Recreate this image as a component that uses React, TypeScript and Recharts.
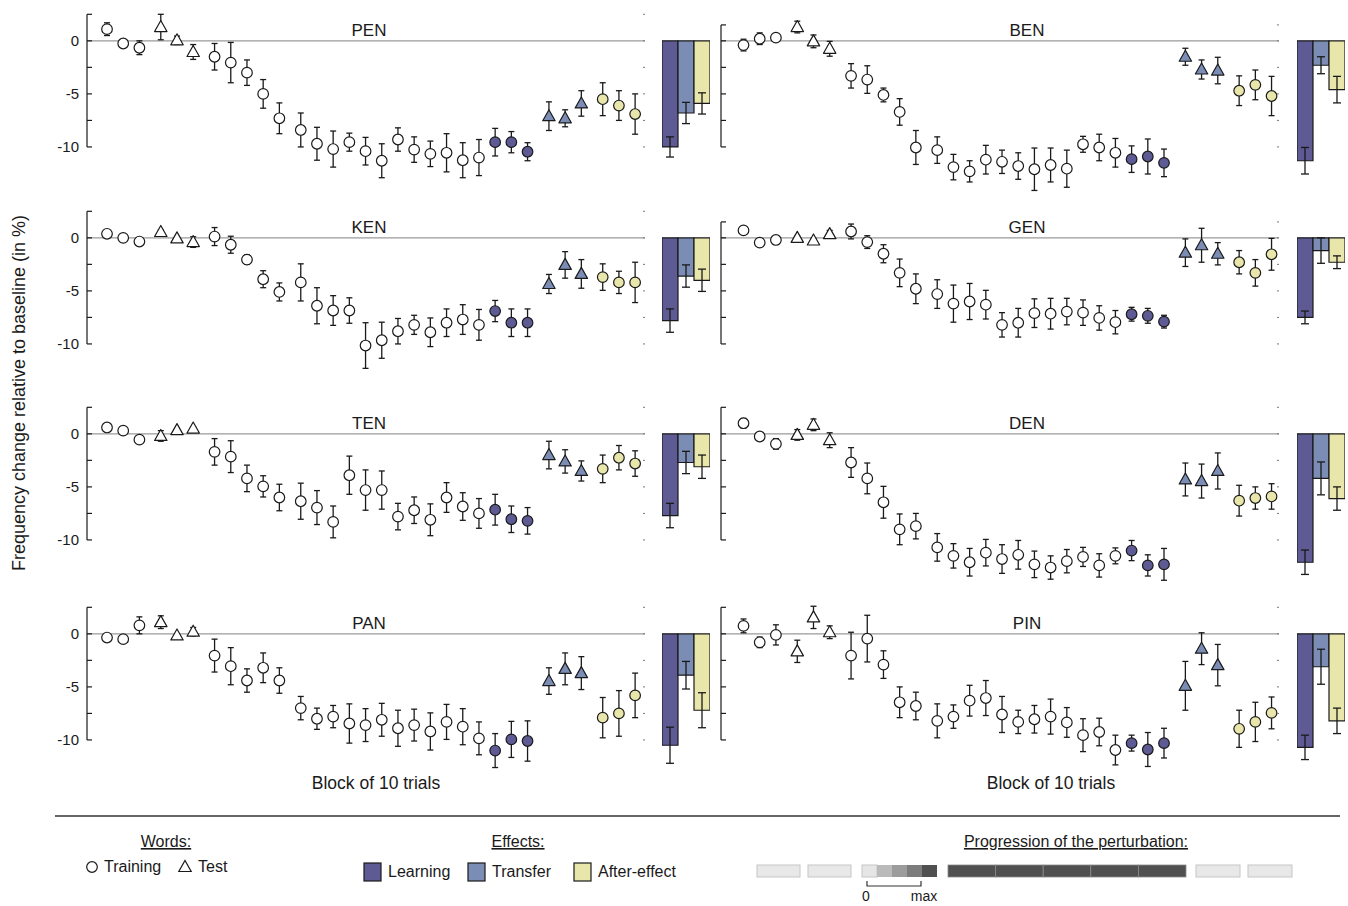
import React from "react";
import {
  ComposedChart,
  BarChart,
  Bar,
  Cell,
  Scatter,
  XAxis,
  YAxis,
  ErrorBar,
  ReferenceLine,
} from "recharts";

const FONT = '"Liberation Sans", Arial, sans-serif';
const INK = "#1a1a1a";
const LEARN = "#5d5a94";
const TRANSFER = "#7b8cb5";
const AFTER = "#e8e6aa";

// block layout: baseline training, baseline test, ramp, full perturbation, transfer test, after-effect
const GROUP_SIZES = [3, 3, 5, 15, 3, 3];
const GROUP_GAP = 0.32;
const rep = (k: string, n: number) => Array(n).fill(k);
const BLOCK_KIND = [
  ...rep("train", 3),
  ...rep("test", 3),
  ...rep("train", 5),
  ...rep("train", 12),
  ...rep("learn", 3),
  ...rep("transfer", 3),
  ...rep("after", 3),
];
const BLOCK_X = GROUP_SIZES.flatMap((n, g) => Array(n).fill(g)).map((g, i) => i + GROUP_GAP * g);

const EFFECTS = ["Learning", "Transfer", "After-effect"];
const EFFECT_COLORS = [LEARN, TRANSFER, AFTER];

// means and standard errors per block (in %)
const PEN_MEAN = [1.1, -0.25, -0.65, 1.3, 0.05, -1.05, -1.5, -2.05, -3.0, -5.0, -7.3, -8.4, -9.7, -10.2, -9.55, -10.4, -11.3, -9.3, -10.25, -10.65, -10.55, -11.25, -11.0, -9.55, -9.55, -10.45, -7.1, -7.3, -5.9, -5.5, -6.1, -6.9];
const PEN_ERR = [0.6, 0.15, 0.65, 1.2, 0.4, 0.7, 1.25, 1.9, 1.2, 1.35, 1.45, 1.6, 1.55, 1.7, 0.85, 1.3, 1.6, 1.1, 1.2, 1.2, 1.8, 1.65, 1.7, 1.3, 1.0, 0.85, 1.35, 0.8, 1.2, 1.55, 1.4, 1.9];
const KEN_MEAN = [0.38, 0, -0.35, 0.55, -0.05, -0.4, 0.12, -0.65, -2.05, -3.9, -5.1, -4.2, -6.4, -6.85, -6.85, -10.15, -9.65, -8.8, -8.2, -8.9, -8.0, -7.7, -8.2, -6.9, -8.0, -8.0, -4.35, -2.55, -3.4, -3.7, -4.2, -4.2];
const KEN_ERR = [0.15, 0.1, 0.15, 0.2, 0.1, 0.5, 0.85, 0.8, 0.45, 0.8, 0.85, 1.75, 1.7, 1.4, 1.2, 2.15, 1.7, 1.2, 0.9, 1.35, 1.3, 1.4, 1.45, 1.0, 1.3, 1.3, 0.9, 1.25, 1.35, 1.25, 1.05, 1.9];
const TEN_MEAN = [0.6, 0.3, -0.55, -0.2, 0.35, 0.5, -1.7, -2.15, -4.2, -4.95, -6.0, -6.35, -6.95, -8.3, -3.9, -5.3, -5.3, -7.8, -7.2, -8.1, -6.0, -6.85, -7.5, -7.15, -8.05, -8.2, -2.0, -2.6, -3.5, -3.3, -2.25, -2.8];
const TEN_ERR = [0.15, 0.15, 0.2, 0.5, 0.15, 0.15, 1.25, 1.5, 1.25, 1.0, 1.25, 1.7, 1.6, 1.5, 1.8, 1.9, 1.8, 1.25, 1.25, 1.5, 1.4, 1.3, 1.4, 1.45, 1.25, 1.25, 1.3, 1.1, 0.95, 1.3, 1.15, 1.2];
const PAN_MEAN = [-0.35, -0.5, 0.8, 1.1, -0.15, 0.2, -2.05, -3.05, -4.4, -3.2, -4.4, -7.0, -8.0, -7.8, -8.45, -8.6, -8.1, -8.9, -8.6, -9.2, -8.3, -8.75, -9.85, -11.0, -9.95, -10.1, -4.45, -3.3, -3.7, -7.9, -7.5, -5.8];
const PAN_ERR = [0.15, 0.3, 0.8, 0.6, 0.15, 0.4, 1.55, 1.75, 1.1, 1.4, 1.2, 1.1, 1.0, 1.05, 1.85, 1.55, 1.55, 1.7, 1.5, 1.75, 1.65, 1.7, 1.55, 1.6, 1.7, 1.9, 1.25, 1.5, 1.55, 1.9, 2.15, 2.1];
const BEN_MEAN = [-0.4, 0.2, 0.3, 1.3, -0.05, -0.75, -3.3, -3.65, -5.1, -6.7, -10.05, -10.3, -11.9, -12.3, -11.2, -11.4, -11.8, -12.1, -11.7, -12.05, -9.75, -10.05, -10.55, -11.15, -10.9, -11.5, -1.5, -2.7, -2.8, -4.7, -4.15, -5.2];
const BEN_ERR = [0.55, 0.55, 0.2, 0.55, 0.6, 0.7, 1.15, 1.3, 0.65, 1.25, 1.6, 1.25, 1.2, 1.0, 1.35, 1.1, 1.25, 2.0, 1.6, 1.75, 0.75, 1.25, 1.35, 1.25, 1.65, 1.3, 0.8, 0.9, 1.25, 1.4, 1.4, 1.85];
const GEN_MEAN = [0.7, -0.45, -0.2, 0.0, -0.25, 0.35, 0.6, -0.4, -1.5, -3.3, -4.8, -5.3, -6.2, -6.0, -6.3, -8.2, -8.0, -7.1, -7.15, -6.95, -7.05, -7.55, -7.95, -7.2, -7.35, -7.9, -1.4, -0.7, -1.5, -2.3, -3.3, -1.55];
const GEN_ERR = [0.15, 0.15, 0.15, 0.15, 0.2, 0.35, 0.7, 0.6, 0.85, 1.3, 1.4, 1.35, 1.75, 1.7, 1.35, 1.15, 1.35, 1.35, 1.45, 1.25, 1.2, 1.15, 1.1, 0.65, 0.7, 0.6, 1.3, 1.6, 1.05, 1.1, 1.25, 1.5];
const DEN_MEAN = [1.0, -0.25, -0.95, -0.1, 0.85, -0.6, -2.7, -4.2, -6.45, -9.0, -8.7, -10.7, -11.5, -12.1, -11.2, -11.8, -11.4, -12.3, -12.6, -12.0, -11.6, -12.4, -11.5, -11.0, -12.4, -12.3, -4.3, -4.45, -3.5, -6.3, -6.05, -5.9];
const DEN_ERR = [0.45, 0.15, 0.5, 0.5, 0.55, 0.7, 1.4, 1.45, 1.5, 1.45, 1.2, 1.3, 1.15, 1.3, 1.25, 1.35, 1.35, 1.25, 1.1, 1.1, 0.9, 1.1, 0.75, 0.95, 1.0, 1.5, 1.55, 1.6, 1.7, 1.45, 1.05, 1.2];
const PIN_MEAN = [0.75, -0.8, -0.1, -1.65, 1.55, 0.15, -2.05, -0.45, -2.9, -6.45, -6.8, -8.2, -7.8, -6.3, -6.05, -7.6, -8.3, -8.05, -7.8, -8.35, -9.55, -9.25, -10.95, -10.3, -10.9, -10.3, -4.9, -1.4, -2.95, -8.95, -8.3, -7.45];
const PIN_ERR = [0.65, 0.5, 0.95, 1.05, 1.05, 0.6, 2.2, 2.2, 1.3, 1.45, 1.3, 1.6, 1.1, 1.45, 1.65, 1.7, 1.1, 1.3, 1.65, 1.4, 1.55, 1.3, 1.4, 0.75, 1.6, 1.4, 2.3, 1.5, 1.95, 1.75, 1.85, 1.5];

// effect sizes: learning, transfer, after-effect
const PEN_BARS = [-10.0, -6.8, -5.9];
const PEN_BAR_ERR = [0.95, 1.0, 1.0];
const KEN_BARS = [-7.8, -3.6, -4.0];
const KEN_BAR_ERR = [1.1, 1.05, 1.05];
const TEN_BARS = [-7.7, -2.7, -3.1];
const TEN_BAR_ERR = [1.15, 1.05, 1.1];
const PAN_BARS = [-10.5, -3.9, -7.2];
const PAN_BAR_ERR = [1.7, 1.3, 1.65];
const BEN_BARS = [-11.3, -2.3, -4.6];
const BEN_BAR_ERR = [1.25, 0.8, 1.25];
const GEN_BARS = [-7.5, -1.2, -2.3];
const GEN_BAR_ERR = [0.6, 1.2, 0.6];
const DEN_BARS = [-12.1, -4.2, -6.1];
const DEN_BAR_ERR = [1.15, 1.55, 1.1];
const PIN_BARS = [-10.7, -3.1, -8.2];
const PIN_BAR_ERR = [1.15, 1.65, 1.2];

const PANELS = [
  { word: "PEN", mean: PEN_MEAN, err: PEN_ERR, bars: PEN_BARS, barErr: PEN_BAR_ERR, col: 0, row: 0 },
  { word: "KEN", mean: KEN_MEAN, err: KEN_ERR, bars: KEN_BARS, barErr: KEN_BAR_ERR, col: 0, row: 1 },
  { word: "TEN", mean: TEN_MEAN, err: TEN_ERR, bars: TEN_BARS, barErr: TEN_BAR_ERR, col: 0, row: 2 },
  { word: "PAN", mean: PAN_MEAN, err: PAN_ERR, bars: PAN_BARS, barErr: PAN_BAR_ERR, col: 0, row: 3 },
  { word: "BEN", mean: BEN_MEAN, err: BEN_ERR, bars: BEN_BARS, barErr: BEN_BAR_ERR, col: 1, row: 0 },
  { word: "GEN", mean: GEN_MEAN, err: GEN_ERR, bars: GEN_BARS, barErr: GEN_BAR_ERR, col: 1, row: 1 },
  { word: "DEN", mean: DEN_MEAN, err: DEN_ERR, bars: DEN_BARS, barErr: DEN_BAR_ERR, col: 1, row: 2 },
  { word: "PIN", mean: PIN_MEAN, err: PIN_ERR, bars: PIN_BARS, barErr: PIN_BAR_ERR, col: 1, row: 3 },
];

// layout
const ROW_ZERO = [41, 238, 434, 634];
const Y_DOMAIN: [number, number] = [-15, 3];
const CHART_H = 191;
const PX = CHART_H / (Y_DOMAIN[1] - Y_DOMAIN[0]);
const PLOT_W = 558;
const COLS = [
  { plotLeft: 87, axisW: 40, xDomain: [-1.235, 33.21], titleDx: 3, barLeft: 662, labels: true, axisTop: [2.5, 2.5, 2.5, 2.5] },
  { plotLeft: 721, axisW: 4, xDomain: [-1.39, 33.06], titleDx: 27, barLeft: 1297, labels: false, axisTop: [1.5, 1.5, 2.5, 2.5] },
];

const circleShape = (fill: string) => (p: any) => (
  <circle cx={p.cx} cy={p.cy} r={5.3} fill={fill} stroke={INK} strokeWidth={1.2} />
);
const triangleShape = (fill: string) => (p: any) => (
  <polygon
    points={`${p.cx},${p.cy - 6.5} ${p.cx + 6.2},${p.cy + 4.5} ${p.cx - 6.2},${p.cy + 4.5}`}
    fill={fill}
    stroke={INK}
    strokeWidth={1.2}
    strokeLinejoin="round"
  />
);

const SERIES = [
  { kind: "train", shape: circleShape("#fff") },
  { kind: "test", shape: triangleShape("#fff") },
  { kind: "learn", shape: circleShape(LEARN) },
  { kind: "transfer", shape: triangleShape(TRANSFER) },
  { kind: "after", shape: circleShape(AFTER) },
];

const leftTick = (labels: boolean) => (p: any) => (
  <g>
    <line x1={p.x} x2={p.x + 5} y1={p.y} y2={p.y} stroke={INK} strokeWidth={1.2} />
    {labels && p.payload.value % 5 === 0 && (
      <text x={p.x - 8} y={p.y} dy="0.36em" textAnchor="end" fontSize={15} fill={INK} fontFamily={FONT}>
        {p.payload.value}
      </text>
    )}
  </g>
);
const rightTick = (p: any) => (
  <line x1={p.x - 2} x2={p.x} y1={p.y} y2={p.y} stroke="#777" strokeWidth={1} />
);

function Panel({ panel }: { panel: (typeof PANELS)[number] }) {
  const col = COLS[panel.col];
  const top = ROW_ZERO[panel.row] - Y_DOMAIN[1] * PX;
  const axisTop = col.axisTop[panel.row];
  const ticks = [axisTop, 0, -2.5, -5, -7.5, -10];
  const points = panel.mean.map((v, i) => ({ x: BLOCK_X[i], y: v, err: panel.err[i], kind: BLOCK_KIND[i] }));
  const barRows = EFFECTS.map((e, i) => ({ effect: e, value: panel.bars[i], error: panel.barErr[i] }));
  const zeroMargin = { top: 0, right: 0, bottom: 0, left: 0 };

  return (
    <>
      <div style={{ position: "absolute", left: col.plotLeft - col.axisW, top }}>
        <ComposedChart width={col.axisW + PLOT_W + 4} height={CHART_H} margin={zeroMargin}>
          <XAxis type="number" dataKey="x" domain={col.xDomain} allowDataOverflow hide />
          <YAxis
            type="number"
            domain={Y_DOMAIN}
            allowDataOverflow
            ticks={ticks}
            interval={0}
            width={col.axisW}
            axisLine={false}
            tickLine={false}
            tickSize={0}
            tickMargin={0}
            tick={leftTick(col.labels)}
          />
          <YAxis
            yAxisId="r"
            orientation="right"
            type="number"
            domain={Y_DOMAIN}
            allowDataOverflow
            ticks={ticks}
            interval={0}
            width={4}
            axisLine={false}
            tickLine={false}
            tickSize={0}
            tickMargin={0}
            tick={rightTick}
          />
          <ReferenceLine
            y={0}
            stroke="#9a9a9a"
            strokeWidth={1.4}
            label={{ value: panel.word, position: "top", offset: 5, dx: col.titleDx, fontSize: 17, fill: INK, fontFamily: FONT }}
          />
          <ReferenceLine
            segment={[
              { x: col.xDomain[0], y: axisTop },
              { x: col.xDomain[0], y: -10 },
            ]}
            stroke={INK}
            strokeWidth={1.2}
            ifOverflow="visible"
          />
          {SERIES.map((s) => (
            <Scatter
              key={s.kind}
              data={points.filter((p) => p.kind === s.kind)}
              dataKey="y"
              shape={s.shape}
              isAnimationActive={false}
            >
              <ErrorBar dataKey="err" direction="y" width={3} stroke={INK} strokeWidth={1.3} />
            </Scatter>
          ))}
        </ComposedChart>
      </div>
      <div style={{ position: "absolute", left: col.barLeft, top }}>
        <BarChart width={48} height={CHART_H} data={barRows} margin={zeroMargin} barCategoryGap={0} barGap={0}>
          <XAxis dataKey="effect" hide />
          <YAxis type="number" domain={Y_DOMAIN} allowDataOverflow hide />
          <Bar dataKey="value" stroke={INK} strokeWidth={1.2} isAnimationActive={false}>
            {barRows.map((r, i) => (
              <Cell key={r.effect} fill={EFFECT_COLORS[i]} />
            ))}
            <ErrorBar dataKey="error" direction="y" width={4} stroke={INK} strokeWidth={1.3} />
          </Bar>
        </BarChart>
      </div>
    </>
  );
}

const RAMP_FILLS = ["#e6e6e6", "#bababa", "#9c9c9c", "#7c7c7c", "#505050"];

function Annotations() {
  const light = { fill: "#e8e8e8", stroke: "#c6c6c6", strokeWidth: 1 };
  return (
    <svg
      width={1348}
      height={906}
      style={{ position: "absolute", left: 0, top: 0, pointerEvents: "none" }}
      fontFamily={FONT}
      fill={INK}
    >
      <text transform="translate(19,393) rotate(-90)" textAnchor="middle" dy="0.35em" fontSize={18}>
        Frequency change relative to baseline (in %)
      </text>
      <text x={376} y={789} textAnchor="middle" fontSize={17.5}>Block of 10 trials</text>
      <text x={1051} y={789} textAnchor="middle" fontSize={17.5}>Block of 10 trials</text>
      <line x1={55} x2={1340} y1={816} y2={816} stroke="#333" strokeWidth={1.5} />

      <text x={166} y={847} textAnchor="middle" fontSize={16} textDecoration="underline">Words:</text>
      <circle cx={92} cy={867} r={5.3} fill="#fff" stroke={INK} strokeWidth={1.2} />
      <text x={104} y={872} fontSize={16}>Training</text>
      <polygon points="185,860.5 191.2,871.5 178.8,871.5" fill="#fff" stroke={INK} strokeWidth={1.2} />
      <text x={198} y={872} fontSize={16}>Test</text>

      <text x={518} y={847} textAnchor="middle" fontSize={16} textDecoration="underline">Effects:</text>
      {EFFECTS.map((e, i) => {
        const x = [364, 468, 574][i];
        return (
          <g key={e}>
            <rect x={x} y={863} width={17} height={18} fill={EFFECT_COLORS[i]} stroke={INK} strokeWidth={1.2} />
            <text x={x + 24} y={877} fontSize={16}>{e}</text>
          </g>
        );
      })}

      <text x={1076} y={847} textAnchor="middle" fontSize={16} textDecoration="underline">
        Progression of the perturbation:
      </text>
      <rect x={757} y={865} width={43} height={12} {...light} />
      <rect x={808} y={865} width={43} height={12} {...light} />
      {RAMP_FILLS.map((f, i) => (
        <rect key={i} x={862 + i * 15} y={865} width={15} height={12} fill={f} stroke={i === 0 ? "#c6c6c6" : "none"} />
      ))}
      {[0, 1, 2, 3, 4].map((i) => (
        <rect key={i} x={948 + i * 47.6} y={865} width={47.6} height={12} fill="#505050" stroke="#8a8a8a" strokeWidth={0.8} />
      ))}
      <rect x={1196} y={865} width={44} height={12} {...light} />
      <rect x={1248} y={865} width={44} height={12} {...light} />
      <path d="M867,881 V886 H921 V881" fill="none" stroke="#333" strokeWidth={1.2} />
      <text x={866} y={901} textAnchor="middle" fontSize={14}>0</text>
      <text x={924} y={901} textAnchor="middle" fontSize={14}>max</text>
    </svg>
  );
}

export default function App() {
  return (
    <div
      style={{
        position: "absolute",
        left: 0,
        top: 0,
        width: 1348,
        height: 906,
        background: "#fff",
        fontFamily: FONT,
        overflow: "hidden",
      }}
    >
      <Annotations />
      {PANELS.map((p) => (
        <Panel key={p.word} panel={p} />
      ))}
    </div>
  );
}
